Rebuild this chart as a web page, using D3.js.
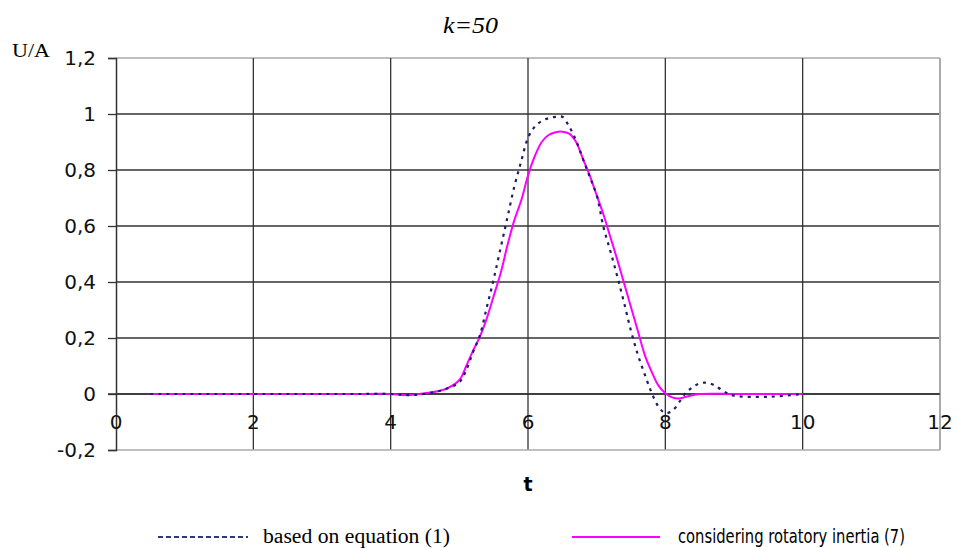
<!DOCTYPE html>
<html>
<head>
<meta charset="utf-8">
<script src="https://cdn.jsdelivr.net/npm/d3@7"></script>
<style>
  body { margin: 0; background: #fff; }
  svg { display: block; }
</style>
</head>
<body>
<div id="chart"></div>
<script>
// valeurs
const tEq = [0.5, 1, 1.5, 2, 2.5, 3, 3.5, 4, 4.3, 4.6, 4.8, 5.0, 5.1, 5.2, 5.3, 5.4, 5.5, 5.6, 5.7, 5.8, 5.9,
  6.0, 6.1, 6.2, 6.3, 6.4, 6.5, 6.6, 6.7, 6.8, 6.9, 7.0, 7.1, 7.2, 7.3, 7.4, 7.5, 7.6, 7.7, 7.8, 7.9,
  8.0, 8.1, 8.2, 8.3, 8.4, 8.5, 8.6, 8.7, 8.8, 8.9, 9.0, 9.5, 10];
const uEq = [0, 0, 0, 0, 0, 0, 0, 0, -0.004, 0.005, 0.018, 0.042, 0.085, 0.15, 0.21, 0.31, 0.41, 0.52, 0.63, 0.74, 0.83,
  0.915, 0.955, 0.975, 0.985, 0.99, 0.99, 0.955, 0.905, 0.84, 0.775, 0.71, 0.595, 0.51, 0.42, 0.325, 0.225, 0.14, 0.07, 0.005, -0.045,
  -0.068, -0.06, -0.03, 0.005, 0.025, 0.038, 0.04, 0.033, 0.018, 0.003, -0.006, -0.01, 0];

const tRot = [0.5, 1, 1.5, 2, 2.5, 3, 3.5, 4, 4.2, 4.5, 4.8, 5.0, 5.1, 5.2, 5.3, 5.4, 5.5, 5.6, 5.7, 5.8, 5.9,
  6.0, 6.1, 6.2, 6.3, 6.4, 6.5, 6.6, 6.7, 6.8, 6.9, 7.0, 7.1, 7.2, 7.3, 7.4, 7.5, 7.6, 7.7, 7.8, 7.9,
  8.0, 8.1, 8.2, 8.3, 8.5, 9, 9.5, 10];
const uRot = [0, 0, 0, 0, 0, 0, 0, 0, -0.004, 0.003, 0.018, 0.05, 0.1, 0.155, 0.205, 0.27, 0.35, 0.43, 0.53, 0.62, 0.69,
  0.78, 0.85, 0.9, 0.925, 0.935, 0.937, 0.93, 0.9, 0.84, 0.78, 0.71, 0.64, 0.56, 0.48, 0.395, 0.31, 0.225, 0.14, 0.08, 0.03,
  0.003, -0.012, -0.016, -0.01, 0, 0, 0, 0];

const xTicks = [0, 2, 4, 6, 8, 10, 12];
const yTicks = [-0.2, 0, 0.2, 0.4, 0.6, 0.8, 1, 1.2];
const seriesNames = ["based on equation (1)", "considering rotatory inertia (7)"];

const width = 958, height = 548;
const margin = { top: 58, right: 18, bottom: 98, left: 116 };

const sans = "'DejaVu Sans', 'Liberation Sans', Arial, sans-serif";
const serif = "'Liberation Serif', 'Times New Roman', serif";

const svg = d3.select("#chart").append("svg")
  .attr("width", width)
  .attr("height", height);

const x = d3.scaleLinear().domain([0, 12]).range([margin.left, width - margin.right]);
const y = d3.scaleLinear().domain([-0.2, 1.2]).range([height - margin.bottom, margin.top]);

const loc = d3.formatLocale({ decimal: ",", thousands: ".", grouping: [3], currency: ["", ""], minus: "-" });
const fmt = loc.format("~g");

// grille
svg.append("g")
  .selectAll("line")
  .data(yTicks.filter(d => d > -0.2))
  .join("line")
  .attr("x1", x(0)).attr("x2", x(12))
  .attr("y1", d => y(d)).attr("y2", d => y(d))
  .attr("stroke", d => d == 1.2 ? "#aaa" : "#333")
  .attr("stroke-width", 1.3);

svg.append("g")
  .selectAll("line")
  .data(xTicks.filter(d => d > 0))
  .join("line")
  .attr("x1", d => x(d)).attr("x2", d => x(d))
  .attr("y1", y(1.2)).attr("y2", y(-0.2))
  .attr("stroke", d => d == 12 ? "#aaa" : "#333")
  .attr("stroke-width", d => d == 12 ? 2 : 1.3);

// bas du cadre
svg.append("line")
  .attr("x1", x(0)).attr("x2", x(12))
  .attr("y1", y(-0.2)).attr("y2", y(-0.2))
  .attr("stroke", "#aaa").attr("stroke-width", 1.3);

// axe y
const yAxis = svg.append("g")
  .attr("transform", "translate(" + x(0) + ",0)")
  .call(d3.axisLeft(y).tickValues(yTicks).tickFormat(fmt).tickSize(8).tickPadding(12));
yAxis.select(".domain").attr("stroke", "#333").attr("stroke-width", 1.5);
yAxis.selectAll(".tick line").attr("stroke", "#333").attr("stroke-width", 1.3);
yAxis.selectAll("text")
  .style("font-family", sans)
  .style("font-size", "20px")
  .attr("fill", "#111");

// axe x (sur la ligne 0)
svg.append("line")
  .attr("x1", x(0) - 8).attr("x2", x(12))
  .attr("y1", y(0)).attr("y2", y(0))
  .attr("stroke", "#333").attr("stroke-width", 1.5);

svg.append("g")
  .selectAll("text")
  .data(xTicks)
  .join("text")
  .attr("x", d => x(d))
  .attr("y", y(0) + 35)
  .attr("text-anchor", "middle")
  .style("font-family", sans)
  .style("font-size", "20px")
  .attr("fill", "#111")
  .text(d => d);

// courbes
const line = d3.line()
  .x(d => x(d[0]))
  .y(d => y(d[1]))
  .curve(d3.curveCatmullRom);

svg.append("path")
  .datum(d3.zip(tRot, uRot))
  .attr("d", line)
  .attr("fill", "none")
  .attr("stroke", "#ff00ff")
  .attr("stroke-width", 2);

svg.append("path")
  .datum(d3.zip(tEq, uEq))
  .attr("d", line)
  .attr("fill", "none")
  .attr("stroke", "#1c1c6e")
  .attr("stroke-width", 2.2)
  .attr("stroke-dasharray", "3,5");

// titres
svg.append("text")
  .attr("x", 443).attr("y", 33)
  .attr("textLength", 55).attr("lengthAdjust", "spacingAndGlyphs")
  .style("font-family", serif)
  .style("font-style", "italic")
  .style("font-size", "24px")
  .text("k=50");

svg.append("text")
  .attr("x", 12).attr("y", 57)
  .attr("textLength", 38).attr("lengthAdjust", "spacingAndGlyphs")
  .style("font-family", serif)
  .style("font-size", "19px")
  .text("U/A");

svg.append("text")
  .attr("x", 528).attr("y", 491)
  .attr("text-anchor", "middle")
  .style("font-family", sans)
  .style("font-weight", "bold")
  .style("font-size", "19px")
  .text("t");

// légende
const leg = svg.append("g");
leg.append("line")
  .attr("x1", 158).attr("x2", 248).attr("y1", 537).attr("y2", 537)
  .attr("stroke", "#2a3a7a").attr("stroke-width", 2).attr("stroke-dasharray", "5,3");
leg.append("text")
  .attr("x", 263).attr("y", 543)
  .attr("textLength", 187).attr("lengthAdjust", "spacingAndGlyphs")
  .style("font-family", serif)
  .style("font-size", "20px")
  .text(seriesNames[0]);
leg.append("line")
  .attr("x1", 572).attr("x2", 660).attr("y1", 537).attr("y2", 537)
  .attr("stroke", "#ff00ff").attr("stroke-width", 2);
leg.append("text")
  .attr("x", 678).attr("y", 543)
  .attr("textLength", 227).attr("lengthAdjust", "spacingAndGlyphs")
  .style("font-family", "'Liberation Sans Narrow', 'DejaVu Sans Condensed', 'Liberation Sans', sans-serif")
  .style("font-size", "19px")
  .text(seriesNames[1]);
</script>
</body>
</html>
